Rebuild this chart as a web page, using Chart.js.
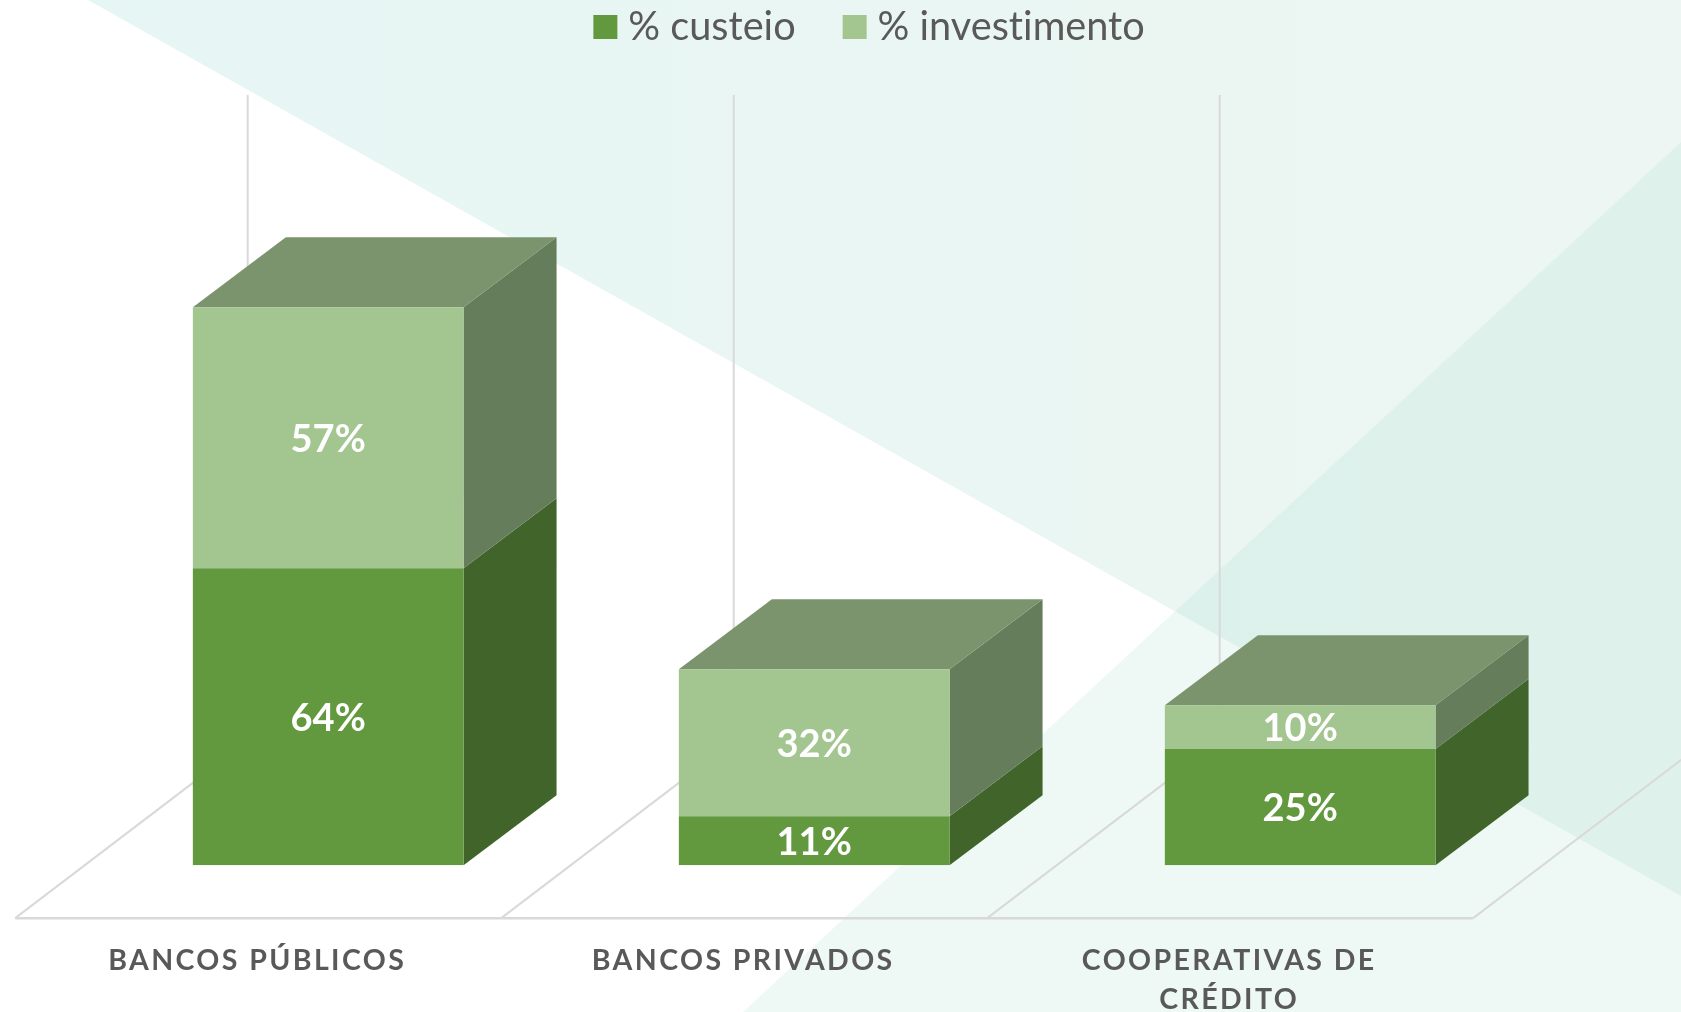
<!DOCTYPE html>
<html><head><meta charset="utf-8">
<style>html,body{margin:0;padding:0;background:#fff;overflow:hidden}canvas{display:block}</style>
<script src="https://cdn.jsdelivr.net/npm/chart.js@4"></script>
</head><body>
<canvas id="c" width="1681" height="1012"></canvas>
<script>
const categories = ['BANCOS PÚBLICOS', 'BANCOS PRIVADOS', ['COOPERATIVAS DE', 'CRÉDITO']];
const custeio = [64.4, 10.6, 25.2];
const investimento = [56.6, 31.9, 9.5];
const seriesNames = ['% custeio', '% investimento'];
const frontColors = ['#62993F', '#A3C58F'];
const sideColors = ['#40642A', '#667D5B'];
const topColor = '#7B946D';
const gridColor = '#D9D9D9';
const textColor = '#595959';
const depthX = 93, depthY = 70;
const floorDrop = 53, floorShiftX = 70;
const gridTopY = 95;

const poly = (ctx, pts, fill) => {
  ctx.beginPath();
  pts.forEach((p, i) => i ? ctx.lineTo(p[0], p[1]) : ctx.moveTo(p[0], p[1]));
  ctx.closePath();
  ctx.fillStyle = fill;
  ctx.fill();
};
const seg = (ctx, a, b, w) => {
  ctx.beginPath(); ctx.moveTo(a[0], a[1]); ctx.lineTo(b[0], b[1]);
  ctx.lineWidth = w; ctx.strokeStyle = gridColor; ctx.stroke();
};

const scene = {
  id: 'scene',
  afterUpdate(chart) {
    const x = chart.scales.x, orig = x.drawLabels;
    if (!x._spaced) {
      x._spaced = true;
      x.drawLabels = function (a) {
        chart.ctx.letterSpacing = '2.4px';
        orig.call(this, a);
        chart.ctx.letterSpacing = '0.01px';
      };
    }
  },
  afterLayout(chart) {
    const l = chart.legend;
    l.top -= 48.75; l.bottom -= 48.75;
    l.left += 59.6; l.right += 59.6;
  },
  beforeDraw(chart) {
    const ctx = chart.ctx, W = chart.width, H = chart.height;
    ctx.letterSpacing = '0.01px';
    ctx.save();
    ctx.fillStyle = '#fff'; ctx.fillRect(0, 0, W, H);
    const g = ctx.createLinearGradient(88, 0, W, 0);
    g.addColorStop(0, '#E6F6F4'); g.addColorStop(1, '#EDF6F2');
    poly(ctx, [[88, 0], [W, 0], [W, 896]], g);
    poly(ctx, [[W, 142], [W, H], [743, H]], 'rgba(155,218,200,0.17)');
    ctx.restore();
  },
  beforeDatasetsDraw(chart) {
    const ctx = chart.ctx, x = chart.scales.x, y = chart.scales.y;
    const y0 = y.getPixelForValue(0);
    const step = x.getPixelForTick(1) - x.getPixelForTick(0);
    const frontY = y0 + floorDrop, backDX = 232.5, backDY = 177;
    const left = i => x.getPixelForTick(0) - step / 2 - floorShiftX + i * step;
    ctx.save();
    for (let i = 0; i <= categories.length; i++) {
      const fx = left(i);
      seg(ctx, [fx + backDX, gridTopY], [fx + backDX, frontY - backDY], 2);
      seg(ctx, [fx, frontY], [fx + backDX, frontY - backDY], 2);
    }
    seg(ctx, [left(0), frontY], [left(categories.length), frontY], 2.5);
    chart.data.datasets.forEach((ds, d) => {
      chart.getDatasetMeta(d).data.forEach(b => {
        const r = b.x + b.width / 2;
        poly(ctx, [[r, b.y], [r + depthX, b.y - depthY], [r + depthX, b.base - depthY], [r, b.base]], sideColors[d]);
      });
    });
    const last = chart.data.datasets.length - 1;
    chart.getDatasetMeta(last).data.forEach(b => {
      const l = b.x - b.width / 2, r = b.x + b.width / 2;
      poly(ctx, [[l, b.y], [l + depthX, b.y - depthY], [r + depthX, b.y - depthY], [r, b.y]], topColor);
    });
    ctx.restore();
  },
  afterDatasetsDraw(chart) {
    const ctx = chart.ctx;
    ctx.save();
    ctx.font = 'bold 38px Lato';
    ctx.fillStyle = '#fff';
    ctx.textAlign = 'center';
    ctx.textBaseline = 'middle';
    chart.data.datasets.forEach((ds, d) => {
      chart.getDatasetMeta(d).data.forEach((b, i) => {
        ctx.fillText(Math.round(ds.data[i]) + '%', b.x, (b.y + b.base) / 2 + 2);
      });
    });
    ctx.restore();
  }
};

new Chart(document.getElementById('c'), {
  type: 'bar',
  data: {
    labels: categories,
    datasets: [
      { label: seriesNames[0], data: custeio, backgroundColor: frontColors[0], borderWidth: 0 },
      { label: seriesNames[1], data: investimento, backgroundColor: frontColors[1], borderWidth: 0 }
    ]
  },
  options: {
    responsive: false,
    animation: false,
    barPercentage: 0.557,
    categoryPercentage: 1,
    layout: { padding: { left: 85.2, right: 137.8, top: 0, bottom: -75.9 } },
    plugins: {
      tooltip: { enabled: false },
      legend: {
        position: 'top',
        labels: {
          boxWidth: 6, boxHeight: 6, padding: 56, color: textColor,
          font: { family: 'Lato', size: 39.7 },
          generateLabels: c => c.data.datasets.map((ds, i) => ({
            text: ds.label, fillStyle: frontColors[i], strokeStyle: frontColors[i],
            lineWidth: 18, fontColor: textColor, datasetIndex: i, hidden: false
          }))
        }
      }
    },
    scales: {
      x: {
        stacked: true,
        grid: { display: false },
        border: { display: false },
        ticks: {
          color: textColor,
          font: { family: 'Lato', size: 28.5, weight: 'bold', lineHeight: 1.35 },
          padding: 68.9,
          labelOffset: -71,
          maxRotation: 0,
          autoSkip: false
        }
      },
      y: { stacked: true, display: false, min: 0, max: 164.7, grid: { display: false } }
    }
  },
  plugins: [scene]
});
</script>
</body></html>
